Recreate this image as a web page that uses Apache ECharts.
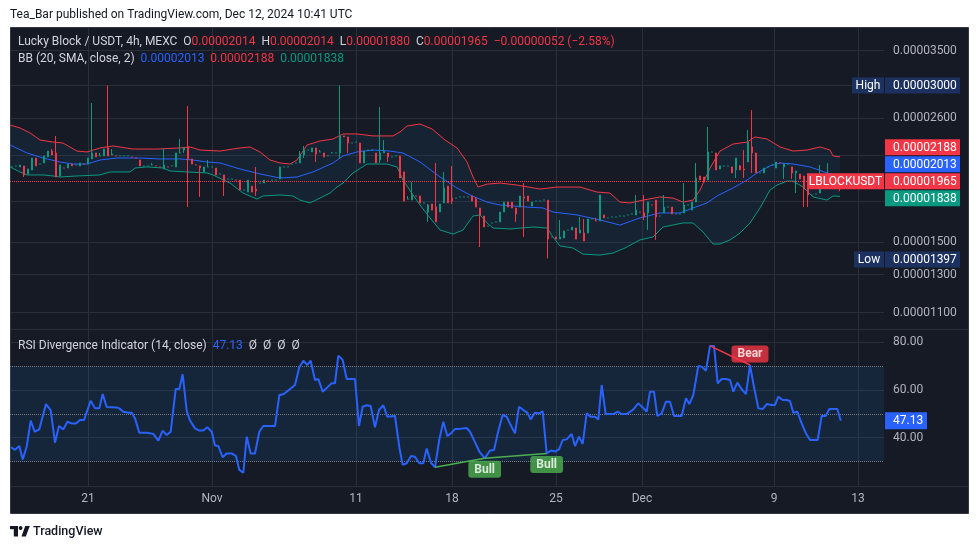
<!DOCTYPE html>
<html><head><meta charset="utf-8">
<script src="https://cdn.jsdelivr.net/npm/echarts@6/dist/echarts.min.js"></script>
<style>html,body{margin:0;padding:0;background:#fff;}#c{width:980px;height:549px;}</style>
</head><body><div id="c"></div>
<script>
// ---- data (prices in units of 1e-8 USDT) ----
const dateTickIdx = [19, 50, 86, 110, 136, 157.5, 190.5, 211.5];
const dateTickLabels = ['21', 'Nov', '11', '18', '25', 'Dec', '9', '13'];
const priceTicks = [3500, 3000, 2600, 2200, 1800, 1500, 1300, 1100];
const priceLabelTicks = [3500, 2600, 1500, 1300, 1100];
const rsiTicks = [40, 60, 80];
const rsiLevels = [30, 50, 70];

// [open, close, low, high]
const candles = [
[2093,2093,2093,2093],[2102,2102,2102,2102],[2093,2111,2093,2111],[2102,2020,2002,2102],[2029,2074,2029,2074],
[2065,2177,2065,2177],[2177,2102,2102,2177],[2120,2120,2120,2120],[2130,2197,2130,2197],[2187,2245,2187,2245],
[2245,2206,2206,2265],[2226,2002,2002,2400],[2011,2111,2011,2111],[2083,2083,2083,2083],[2083,2120,2083,2120],
[2120,2102,2102,2120],[2111,2111,2111,2111],[2102,2130,2102,2130],[2120,2120,2120,2120],[2120,2177,2120,2177],
[2168,2226,2168,2776],[2226,2187,2187,2226],[2197,2197,2197,2226],[2197,2265,2197,2265],[2276,2197,2197,3000],
[2206,2216,2206,2265],[2197,2197,2197,2197],[2197,2197,2197,2197],[2197,2197,2197,2197],[2197,2197,2197,2197],
[2187,2187,2187,2187],[2177,2177,2177,2177],[2158,2102,2102,2158],[2102,2102,2102,2102],[2102,2102,2102,2102],
[2111,2111,2111,2130],[2102,2102,2102,2102],[2093,2093,2093,2093],[2074,2111,2074,2276],[2093,2093,2093,2093],
[2102,2102,2102,2102],[2093,2226,2093,2226],[2226,2226,2226,2368],[2255,2276,2226,2286],[2286,2168,1753,2739],
[2168,2120,2120,2168],[2111,2111,2111,2111],[2102,2083,1833,2102],[2047,2093,2047,2093],[2093,2093,2093,2158],
[2093,2093,2093,2093],[2083,2020,2020,2083],[2029,2029,2029,2029],
[2020,1958,1841,2020],[1984,1984,1984,1984],[1984,1984,1984,1984],[1975,1975,1975,1975],[1975,1890,1890,1975],
[1890,1890,1890,1890],[1873,1975,1873,1975],[1923,1873,1873,1923],[1898,1882,1841,2093],[1949,1949,1949,1949],
[1949,1975,1949,1975],[1966,1966,1966,1966],[1975,1975,1975,1975],[1975,1975,1975,1975],[1984,2093,1984,2093],
[2093,2093,2093,2093],[2093,2093,2093,2093],[2120,2120,2120,2120],[2130,2130,2130,2130],[2130,2216,2130,2245],
[2206,2255,2177,2296],[2255,2255,2255,2255],[2236,2276,2236,2276],[2276,2216,2139,2276],[2236,2236,2236,2255],
[2226,2187,2187,2226],[2197,2197,2197,2197],[2226,2226,2226,2236],[2226,2226,2226,2226],[2226,2400,2168,3000],
[2400,2389,2389,2400],[2389,2326,2226,2389],[2326,2326,2326,2326],[2336,2336,2336,2336],[2326,2130,2130,2326],
[2130,2245,2130,2245],[2255,2255,2255,2255],[2255,2255,2255,2255],[2226,2130,2130,2226],[2158,2226,2130,2727],
[2226,2245,2226,2357],[2226,2187,2139,2226],[2187,2187,2187,2187],[2197,2197,2197,2197],[2197,1993,1993,2197],
[2047,1800,1800,2047],[1816,1816,1816,1841],[1808,1849,1808,1958],[1841,1841,1841,1841],[1841,1785,1785,1841],
[1785,1785,1785,1785],[1715,1769,1642,1777],[1777,1730,1730,1777],[1753,1642,1642,2130],[1715,1777,1715,1777],
[1785,1907,1785,2047],[1923,1785,1785,1923],[1824,1800,1777,2102],[1824,1824,1824,1824],[1833,1833,1833,1833],
[1833,1833,1833,1833],[1833,1833,1833,1833],[1841,1800,1800,1841],[1816,1753,1753,1833],[1746,1693,1469,1746],
[1685,1605,1605,1685],[1612,1612,1612,1612],[1634,1634,1634,1634],[1642,1642,1642,1642],[1642,1715,1642,1715],
[1715,1792,1715,1792],[1792,1753,1753,1792],[1792,1746,1746,1792],[1746,1700,1642,1746],[1753,1841,1753,1841],
[1833,1824,1536,1949],[1841,1800,1800,1841],[1761,1792,1761,1792],[1800,1800,1800,1800],[1800,1800,1800,1800],
[1808,1808,1808,1808],[1808,1522,1397,1808],[1536,1536,1536,1536],[1536,1522,1522,1536],[1522,1536,1522,1656],
[1529,1577,1529,1577],[1584,1584,1584,1584],[1584,1605,1584,1605],[1598,1522,1522,1598],[1563,1584,1563,1678],
[1563,1509,1509,1663],[1563,1663,1563,1663],[1663,1663,1663,1663],[1649,1649,1649,1671],[1649,1849,1649,1849],
[1693,1671,1671,1693],[1671,1671,1671,1671],[1678,1678,1678,1678],[1678,1678,1678,1678],[1685,1685,1685,1685],
[1685,1685,1685,1685],[1693,1693,1693,1693],[1700,1700,1700,1700],[1693,1730,1693,1849],[1715,1715,1715,1715],
[1708,1678,1656,1849],[1708,1792,1584,1792],[1769,1769,1769,1769],[1808,1678,1516,1808],[1685,1685,1685,1685],
[1708,1753,1708,1849],[1753,1753,1753,1753],[1753,1700,1700,1753],[1700,1700,1700,1700],[1700,1700,1700,1700],
[1708,1769,1708,1949],[1769,1769,1769,1769],[1730,1792,1730,1792],[1792,1993,1792,2130],[2011,1975,1975,2011],
[2002,1958,1958,2002],[1975,2236,1975,2497],[2236,2236,2236,2236],[2226,2065,2065,2226],[2074,2102,2074,2102],
[2102,2102,2102,2102],[2102,2102,2102,2102],[2093,2038,2038,2093],[2065,2177,1993,2177],[2102,2065,2065,2111],
[2074,2065,1993,2255],[2139,2336,2139,2464],[2286,2226,2038,2691],[2226,2038,2038,2226],[2038,2038,2038,2038],
[2038,2083,2038,2083],[2093,2093,2093,2093],[2111,2111,2111,2111],[2083,2139,2083,2139],[2130,2130,2130,2130],
[2093,2120,1984,2120],[2120,2120,2120,2120],[2093,2038,1984,2093],[2038,2056,1865,2056],[2029,1984,1984,2029],
[2011,1898,1753,2011],[1949,1849,1753,1949],[1849,1849,1849,1849],[1857,1857,1857,1857],[1865,1915,1865,2111],
[1932,1932,1932,1932],[1949,1975,1949,2130],[1975,1975,1975,1975],[1958,2017,1958,2020],[2014,1965,1880,2014]
];

// Bollinger bands [candle index, price]
const bbUpper = [[-0.5,2519],[2,2486],[4.5,2432],[7,2357],[10.25,2336],[12.75,2326],[16.25,2245],[18.75,2236],[22,2276],[25.25,2296],[30.25,2265],[36.25,2265],[42,2276],[44.5,2286],[47,2255],[52,2245],[57,2276],[59.5,2286],[62,2236],[64.5,2158],[67,2130],[69.5,2120],[71.25,2158],[73.75,2306],[77,2347],[80.25,2368],[82.75,2421],[86.25,2421],[90.25,2400],[95.25,2400],[97,2443],[98.75,2508],[102,2530],[105,2475],[108.25,2357],[111.25,2276],[113.75,2139],[115.25,2002],[116.5,1915],[118.75,1940],[122,1949],[126.25,1932],[132,1898],[136.25,1915],[142,1915],[146.25,1873],[149.5,1865],[152,1792],[154.5,1785],[157.75,1808],[162,1833],[165.25,1824],[167.75,1792],[170.25,1808],[172,1890],[174.5,2083],[177,2245],[180.25,2316],[183.75,2336],[185.75,2389],[188.75,2368],[192,2286],[195.25,2245],[198.75,2255],[202,2286],[204.5,2255],[205.25,2197],[207,2188]];
const bbBasis = [[-0.5,2306],[3.75,2226],[7.75,2177],[12,2139],[15.25,2120],[18.75,2120],[22,2158],[26.25,2177],[32,2177],[37,2168],[42,2168],[45.25,2158],[48.75,2139],[52,2130],[57,2074],[62,2029],[67,1993],[71.25,2002],[75.25,2047],[80.25,2130],[82.75,2197],[86.25,2236],[90.25,2255],[94.5,2245],[97.75,2226],[102,2139],[107,2002],[111.25,1907],[114.5,1849],[118.75,1792],[122,1769],[128.75,1753],[132.75,1746],[135.25,1715],[141.25,1693],[147,1656],[152,1619],[157,1671],[162,1708],[167,1708],[170.25,1746],[173.75,1785],[176.25,1841],[180.25,1907],[183.75,1975],[186.25,2038],[189.5,2102],[192,2130],[195.25,2120],[199.5,2093],[203.75,2038],[207,2013]];
const bbLower = [[-0.5,2093],[2,2047],[3.75,2020],[7.75,2020],[10.25,2011],[12,2002],[16.25,2011],[22,2020],[24.5,2047],[29.5,2047],[30.75,2083],[33.75,2093],[37.75,2083],[39.5,2056],[43.75,2047],[48.75,2038],[50.25,2020],[54.5,1949],[57.75,1865],[61.25,1816],[62.75,1841],[67,1849],[70.25,1841],[72,1808],[74.5,1785],[77,1824],[79.5,1865],[81.25,1915],[82.75,1949],[85.25,2038],[88.75,2120],[93.75,2120],[96.25,2093],[97.75,1975],[100.25,1849],[102,1769],[104.5,1671],[107,1584],[110.25,1556],[112.75,1584],[115.25,1685],[117,1693],[118.75,1634],[120.25,1598],[124.5,1591],[130.25,1605],[133.75,1598],[135.25,1536],[137,1476],[140.25,1463],[142.75,1424],[147,1418],[150.25,1431],[153.25,1463],[157,1516],[160.25,1536],[162.75,1605],[167.75,1634],[170.25,1634],[172.75,1570],[175.25,1489],[177,1489],[179.5,1516],[182,1563],[184.5,1634],[187,1746],[189.5,1890],[191.25,1932],[193.75,1966],[195.25,1966],[197.75,1915],[200.25,1833],[203.75,1808],[205.25,1841],[207,1838]];

// RSI [candle index, value]
const rsi = [[-0.25,36.0],[0.75,34.9],[1.83,36.5],[2.67,30.9],[3.67,36.2],[4.67,47.2],[5.67,42.5],[6.83,43.5],[8.5,54.1],[9.67,51.6],[10.75,37.9],[11.75,44.9],[12.83,43.5],[13.83,46.7],[14.92,46.0],[16,46.0],[17,47.4],[18,47.4],[19.67,55.5],[20.75,52.3],[21.83,52.3],[22.67,58.3],[23.67,52.9],[26.17,52.7],[26.83,52.3],[27.83,50.9],[29.08,50.5],[29.92,50.5],[30.75,48.1],[31.83,42.1],[33.67,42.1],[35.33,41.6],[36.58,38.8],[37.67,43.0],[38.67,41.1],[39.67,42.5],[40.92,60.4],[41.83,60.4],[42.67,66.6],[43.67,51.3],[44.5,47.2],[45.75,43.9],[46.83,43.0],[47.83,43.0],[48.83,44.4],[49.92,42.5],[50.75,36.7],[51.58,36.5],[52.67,31.8],[53.67,33.4],[54.92,33.4],[56,32.3],[56.83,26.5],[57.83,25.3],[58.67,40.4],[59.67,33.4],[60.75,33.4],[61.83,42.5],[62.83,44.9],[65.75,44.9],[66.83,57.9],[67.83,58.2],[68.67,59.3],[70.75,62.1],[71.83,69.5],[72.83,72.3],[73.83,70.5],[74.67,72.3],[75.75,64.2],[76.58,64.6],[77.67,59.3],[78.83,61.1],[79.92,62.8],[80.75,62.8],[81.58,74.4],[82.67,72.6],[83.67,64.6],[85.75,64.6],[86.75,44.9],[87.67,53.0],[88.67,53.6],[89.67,53.3],[90.75,44.4],[91.75,51.6],[92.83,53.6],[93.83,48.8],[95.75,49.1],[96.83,36.0],[97.67,28.6],[98.67,29.3],[99.75,32.3],[100.75,32.0],[101.83,29.3],[102.83,29.3],[103.67,35.5],[104.75,29.5],[105.75,27.6],[106.83,39.3],[107.83,46.7],[108.83,40.7],[109.92,42.1],[110.75,43.7],[111.83,43.7],[113.67,44.1],[114.5,42.5],[115.5,39.0],[116.83,34.2],[118.17,31.4],[119.5,34.6],[120.5,34.8],[121.58,42.8],[122.67,49.5],[123.67,48.8],[124.67,45.3],[125.75,41.8],[126.75,53.0],[127.83,51.6],[128.83,50.5],[129.67,47.7],[130.75,50.5],[131.83,50.2],[132.67,51.1],[133.67,33.4],[134.67,34.6],[135.75,34.2],[136.75,35.1],[137.67,39.0],[138.67,39.3],[139.92,41.6],[140.75,36.5],[141.75,40.4],[142.67,37.4],[143.67,50.2],[144.67,48.8],[145.75,48.8],[146.58,47.7],[147.42,62.1],[148.42,49.9],[150.33,49.9],[151.42,50.9],[152.42,49.9],[153.67,49.9],[155.17,51.6],[156.58,54.4],[157.67,52.7],[158.67,50.9],[159.5,59.3],[160.5,59.3],[161.33,49.1],[162.42,50.2],[163.5,55.1],[164.5,55.1],[165.5,49.1],[167.42,49.1],[168.5,56.5],[169.33,54.1],[170.33,57.9],[171.58,70.1],[172.42,69.8],[173.5,68.1],[174.5,78.5],[175.5,78.5],[176.42,62.8],[177.42,64.6],[178.5,64.6],[179.5,64.2],[180.33,59.3],[181.33,63.1],[182.42,60.3],[183.5,58.3],[184.5,70.5],[185.33,62.8],[186.58,52.3],[187.67,52.0],[188.67,54.1],[189.92,53.7],[190.75,53.7],[191.58,57.2],[192.67,55.8],[193.67,55.8],[194.5,55.4],[195.33,50.5],[196.33,50.9],[197.42,46.0],[198.5,41.8],[199.5,39.0],[201.42,39.0],[202.42,49.1],[203.42,49.1],[204.33,52.0],[206.33,52.0],[207.2,47.13]];

const bullDiv = [[[105.75,27.6],[118.17,31.4]], [[118.17,31.4],[133.67,33.4]]];
const bearDiv = [[[174.5,78.5],[184.5,70.5]]];

// ---- chart ----
const FONT = 'Roboto, "Noto Sans", sans-serif';
const GRID = '#2a2e39', TXT = '#b2b5be';
const UP = '#089981', DOWN = '#f23645', BLUE = '#2962ff';
const fmtP = v => (v / 1e8).toFixed(8);
const last = candles[candles.length - 1];
const prevClose = candles[candles.length - 2][1];
const hi = Math.max(...candles.map(c => c[3]));
const lo = Math.min(...candles.map(c => c[2]));
const bbU = bbUpper[bbUpper.length - 1][1], bbM = bbBasis[bbBasis.length - 1][1], bbL = bbLower[bbLower.length - 1][1];
const rsiLast = rsi[rsi.length - 1][1];
const chg = last[1] - prevClose;
const chgTxt = '\u2212' + fmtP(Math.abs(chg)) + ' (\u2212' + (Math.abs(chg) / prevClose * 100).toFixed(2) + '%)';

const chart = echarts.init(document.getElementById('c'));
const splitL = {show: true, lineStyle: {color: GRID, width: 1}};
const xBase = (gi, lab) => ({
  type: 'value', gridIndex: gi, min: -0.5, max: 218,
  axisLine: {show: false},
  axisTick: {show: false, customValues: dateTickIdx},
  axisLabel: lab ? {show: true, customValues: dateTickIdx, formatter: v => { const k = dateTickIdx.indexOf(v); return k >= 0 ? dateTickLabels[k] : ''; }, color: TXT, fontSize: 12, fontFamily: FONT, margin: 7} : {show: false},
  splitLine: splitL
});
const lineS = (d, color, w, z) => ({type: 'line', xAxisIndex: 0, yAxisIndex: 0, data: d, symbol: 'none', silent: true, lineStyle: {color, width: w}, z});

const option = {
  backgroundColor: '#ffffff',
  animation: false,
  grid: [
    {left: 10, top: 27, width: 874, height: 302},
    {left: 10, top: 330, width: 874, height: 156}
  ],
  xAxis: [xBase(0, false), xBase(1, true)],
  yAxis: [
    {type: 'log', gridIndex: 0, position: 'right', min: 1023, max: 3883,
     axisLine: {show: false}, axisTick: {show: false, customValues: priceTicks},
     axisLabel: {customValues: priceLabelTicks, formatter: fmtP, color: TXT, fontSize: 12, fontFamily: FONT, margin: 9},
     splitLine: splitL},
    {type: 'value', gridIndex: 1, position: 'right', min: 19.75, max: 85.16,
     axisLine: {show: false}, axisTick: {show: false, customValues: rsiTicks},
     axisLabel: {customValues: rsiTicks, formatter: v => v.toFixed(2), color: TXT, fontSize: 12, fontFamily: FONT, margin: 9},
     splitLine: splitL}
  ],
  series: [
    {type: 'custom', xAxisIndex: 0, yAxisIndex: 0, silent: true, z: 1, clip: true,
     data: [[0, bbBasis[0][1]]], encode: {x: 0, y: 1},
     renderItem: (params, api) => {
       const pts = bbUpper.map(p => api.coord(p)).concat(bbLower.slice().reverse().map(p => api.coord(p)));
       return {type: 'polygon', shape: {points: pts}, style: {fill: 'rgba(33,150,243,0.07)'}};
     }},
    lineS(bbUpper, DOWN, 1, 2),
    lineS(bbBasis, BLUE, 1, 2),
    lineS(bbLower, UP, 1, 2),
    {type: 'candlestick', xAxisIndex: 0, yAxisIndex: 0, z: 3, silent: true,
     data: candles.map((c, i) => [i, c[0], c[1], c[2], c[3]]),
     barWidth: 2,
     itemStyle: {color: UP, color0: DOWN, borderColor: UP, borderColor0: DOWN, borderWidth: 1},
     markLine: {silent: true, symbol: 'none', label: {show: false}, lineStyle: {color: DOWN, type: 'dotted', width: 1}, data: [{yAxis: last[1]}]}},
    {type: 'line', xAxisIndex: 1, yAxisIndex: 1, data: rsi, symbol: 'none', silent: true, z: 5,
     lineStyle: {color: BLUE, width: 2},
     markArea: {silent: true, itemStyle: {color: 'rgba(33,150,243,0.10)'}, data: [[{yAxis: rsiLevels[0]}, {yAxis: rsiLevels[2]}]]},
     markLine: {silent: true, symbol: 'none', label: {show: false}, lineStyle: {color: '#787b86', type: 'dotted', width: 1}, data: rsiLevels.map(v => ({yAxis: v}))}},
    ...bullDiv.map(seg => ({type: 'line', xAxisIndex: 1, yAxisIndex: 1, data: seg, symbol: 'none', silent: true, z: 6, lineStyle: {color: '#4caf50', width: 1.5}})),
    ...bearDiv.map(seg => ({type: 'line', xAxisIndex: 1, yAxisIndex: 1, data: seg, symbol: 'none', silent: true, z: 6, lineStyle: {color: DOWN, width: 1.5}})),
    {type: 'scatter', xAxisIndex: 1, yAxisIndex: 1, silent: true, z: 7, symbolSize: 1, itemStyle: {color: 'rgba(0,0,0,0)'},
     data: bullDiv.map(s => s[1]),
     label: {show: true, position: 'bottom', distance: 2, formatter: 'Bull', color: '#fff', backgroundColor: '#4caf50', borderRadius: 3, padding: [3, 6, 2, 6], fontSize: 12, fontWeight: 'bold', fontFamily: FONT}},
    {type: 'scatter', xAxisIndex: 1, yAxisIndex: 1, silent: true, z: 7, symbolSize: 1, itemStyle: {color: 'rgba(0,0,0,0)'},
     data: bearDiv.map(s => s[1]),
     label: {show: true, position: 'top', distance: 2, formatter: 'Bear', color: '#fff', backgroundColor: DOWN, borderRadius: 3, padding: [3, 6, 2, 6], fontSize: 12, fontWeight: 'bold', fontFamily: FONT}}
  ]
};
chart.setOption(option);

// ---- overlay texts & price-scale labels ----
const yP = v => chart.convertToPixel({yAxisIndex: 0}, v);
const yR = v => chart.convertToPixel({yAxisIndex: 1}, v);
const g = [];
g.push({type: 'rect', z: -10, silent: true, shape: {x: 10.5, y: 27.5, width: 958, height: 486}, style: {fill: '#161a25', stroke: '#343844', lineWidth: 1}});
g.push({type: 'line', z: -5, silent: true, shape: {x1: 11, y1: 329.5, x2: 968, y2: 329.5}, style: {stroke: '#2a2e39', lineWidth: 1}});
g.push({type: 'line', z: -5, silent: true, shape: {x1: 11, y1: 486.5, x2: 968, y2: 486.5}, style: {stroke: '#2a2e39', lineWidth: 1}});
const txt = (x, y, text, fill, size, extra) => Object.assign({type: 'text', z: 50, silent: true, style: Object.assign({x, y, text, fill, font: (size || 12) + 'px ' + FONT, align: 'left', verticalAlign: 'middle'}, extra || {})});
const box = (x, top, w, h, fill, text, tx, align) => {
  g.push({type: 'rect', z: 40, silent: true, shape: {x, y: top, width: w, height: h}, style: {fill}});
  g.push(txt(tx, top + h / 2 + 0.5, text, '#ffffff', 12, {align: align || 'left'}));
};
// titles
g.push(txt(10, 14.5, 'Tea_Bar published on TradingView.com, Dec 12, 2024 10:41 UTC', '#131722', 12));
g.push({type: 'text', z: 50, silent: true, style: {x: 18, y: 42, verticalAlign: 'middle', font: '12px ' + FONT, fill: '#d1d4dc',
  text: '{t|Lucky Block / USDT, 4h, MEXC}  {t|O}{r|' + fmtP(last[0]) + '}  {t|H}{r|' + fmtP(last[3]) + '}  {t|L}{r|' + fmtP(last[2]) + '}  {t|C}{r|' + fmtP(last[1]) + '}  {r|' + chgTxt + '}',
  rich: {t: {fill: '#d1d4dc', font: '12px ' + FONT}, r: {fill: DOWN, font: '12px ' + FONT}}}});
g.push({type: 'text', z: 50, silent: true, style: {x: 18, y: 58.5, verticalAlign: 'middle', font: '12px ' + FONT, fill: '#d1d4dc',
  text: '{t|BB (20, SMA, close, 2)}  {b|' + fmtP(bbM) + '}  {r|' + fmtP(bbU) + '}  {g|' + fmtP(bbL) + '}',
  rich: {t: {fill: '#d1d4dc', font: '12px ' + FONT}, b: {fill: BLUE, font: '12px ' + FONT}, r: {fill: DOWN, font: '12px ' + FONT}, g: {fill: UP, font: '12px ' + FONT}}}});
g.push({type: 'text', z: 50, silent: true, style: {x: 18, y: 345.5, verticalAlign: 'middle', font: '12px ' + FONT, fill: '#d1d4dc',
  text: '{t|RSI Divergence Indicator (14, close)}  {b|' + rsiLast.toFixed(2) + '}  {t|\u00d8  \u00d8  \u00d8  \u00d8}',
  rich: {t: {fill: '#d1d4dc', font: '12px ' + FONT}, b: {fill: BLUE, font: '12px ' + FONT}}}});
// price-scale boxes
const H = 16, P = 17;
const cY = yP(last[1]);
box(885, cY - H / 2 - 2 * P, 75, H, DOWN, fmtP(bbU), 893);
box(885, cY - H / 2 - P, 75, H, BLUE, fmtP(bbM), 893);
box(885, cY - H / 2, 75, H, DOWN, fmtP(last[1]), 893);
box(885, cY - H / 2 + P, 75, H, UP, fmtP(bbL), 893);
box(807, cY - H / 2, 77, H, DOWN, 'LBLOCKUSDT', 845.5, 'center');
const hY = yP(hi), lY = yP(lo);
box(852, hY - H / 2, 32, H, '#1c3160', 'High', 868, 'center');
box(885, hY - H / 2, 75, H, '#1c3160', fmtP(hi), 893);
box(854, lY - H / 2 + 1, 30, H, '#1c3160', 'Low', 869, 'center');
box(885, lY - H / 2 + 1, 75, H, '#1c3160', fmtP(lo), 893);
const rY = yR(rsiLast);
box(885, rY - 8.5, 42, 17, BLUE, rsiLast.toFixed(2), 893);
// footer logo + text
g.push({type: 'rect', z: 50, silent: true, shape: {x: 10, y: 526, width: 8, height: 3.2}, style: {fill: '#131722'}});
g.push({type: 'rect', z: 50, silent: true, shape: {x: 13.8, y: 526, width: 4.2, height: 10.5}, style: {fill: '#131722'}});
g.push({type: 'circle', z: 50, silent: true, shape: {cx: 20.6, cy: 528, r: 1.9}, style: {fill: '#131722'}});
g.push({type: 'polygon', z: 50, silent: true, shape: {points: [[21.5, 536.5], [25.2, 526], [29.8, 526], [25.8, 536.5]]}, style: {fill: '#131722'}});
g.push(txt(33, 531.5, 'TradingView', '#131722', 13, {font: '500 12.5px ' + FONT}));
chart.setOption({graphic: g});
</script>
</body></html>
